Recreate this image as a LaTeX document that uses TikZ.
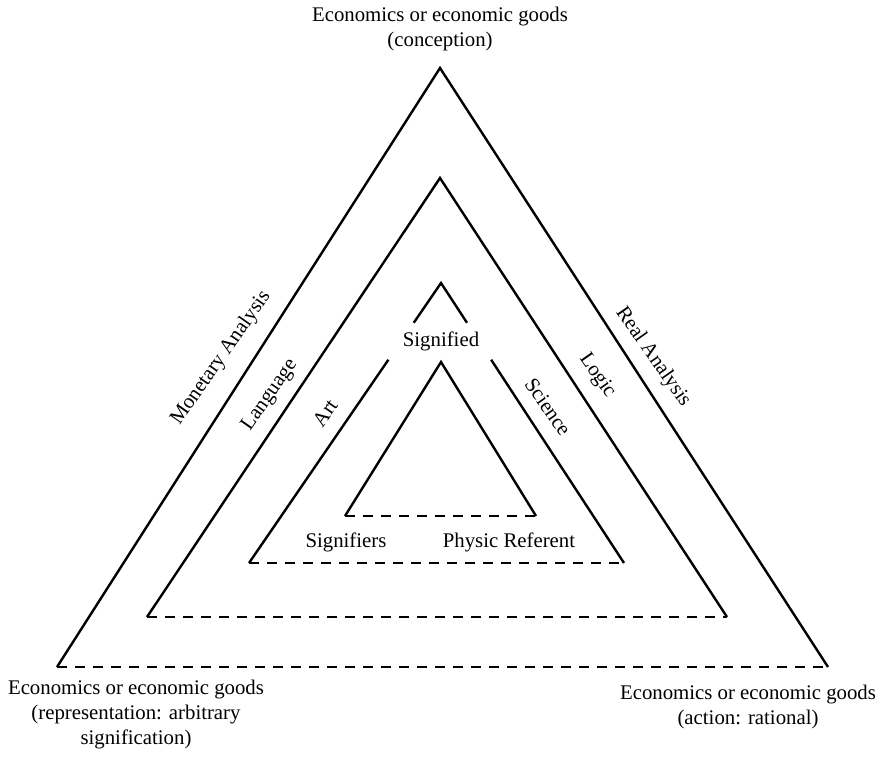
\documentclass[tikz,border=0pt]{standalone}
\usepackage{fontspec}
\setmainfont{Liberation Serif}
\usepackage{tikz}
\usetikzlibrary{calc}
\tikzset{
  tri/.style={-,line width=1.2pt},
  tribase/.style={tri,dash pattern=on 5pt off 4pt},
  lbl/.style={font=\fontsize{10.4}{12.5}\selectfont,align=center,inner sep=0pt}
}

\begin{document}
\begin{tikzpicture}[x=0.5pt,y=-0.5pt]
	\useasboundingbox (0,0) rectangle (881,756);

	% corners
	\coordinate (A1) at (440,68);  \coordinate (L1) at (57,667);  \coordinate (R1) at (828,667);
	\coordinate (A2) at (440,178); \coordinate (L2) at (147,617); \coordinate (R2) at (727,617);
	\coordinate (A3) at (441,283); \coordinate (L3) at (249,563); \coordinate (R3) at (624,563);
	\coordinate (A4) at (441,362); \coordinate (L4) at (345,516); \coordinate (R4) at (536,516);

	% outer triangles
	\draw[tri] (L1) -- (A1) -- (R1);
	\draw[tribase] (L1) -- (R1);
	\draw[tri] (L2) -- (A2) -- (R2);
	\draw[tribase] (L2) -- (R2);

	% broken triangle
	\draw[tri] ($(A3)!0.142!(L3)$) -- (A3) -- ($(A3)!0.142!(R3)$);
	\draw[tri] ($(A3)!0.274!(L3)$) -- (L3);
	\draw[tri] ($(A3)!0.274!(R3)$) -- (R3);
	\draw[tribase] (L3) -- (R3);

	% inner triangle
	\draw[tri] (L4) -- (A4) -- (R4);
	\draw[tribase] (L4) -- (R4);

	% corner labels
	\node[lbl] (top) at (440,29) {Economics or economic goods\\(conception)};
	\node[lbl] (left) at (136,715) {Economics or economic goods\\(representation: arbitrary\\signification)};
	\node[lbl] (right) at (748,707) {Economics or economic goods\\(action: rational)};

	% side labels
	\node[lbl,rotate=55] (money) at (221,358) {Monetary Analysis};
	\node[lbl,rotate=55] (lang) at (270,395) {Language};
	\node[lbl,rotate=55] (art) at (325,413) {Art};
	\node[lbl,rotate=-55] (real) at (653,357) {Real Analysis};
	\node[lbl,rotate=-55] (logic) at (597,376) {Logic};
	\node[lbl,rotate=-55] (sci) at (548,407) {Science};

	% inner labels
	\node[lbl] (sigd) at (441,341) {Signified};
	\node[lbl] (sigs) at (346,542) {Signifiers};
	\node[lbl] (phys) at (509,542) {Physic Referent};
\end{tikzpicture}
\end{document}
